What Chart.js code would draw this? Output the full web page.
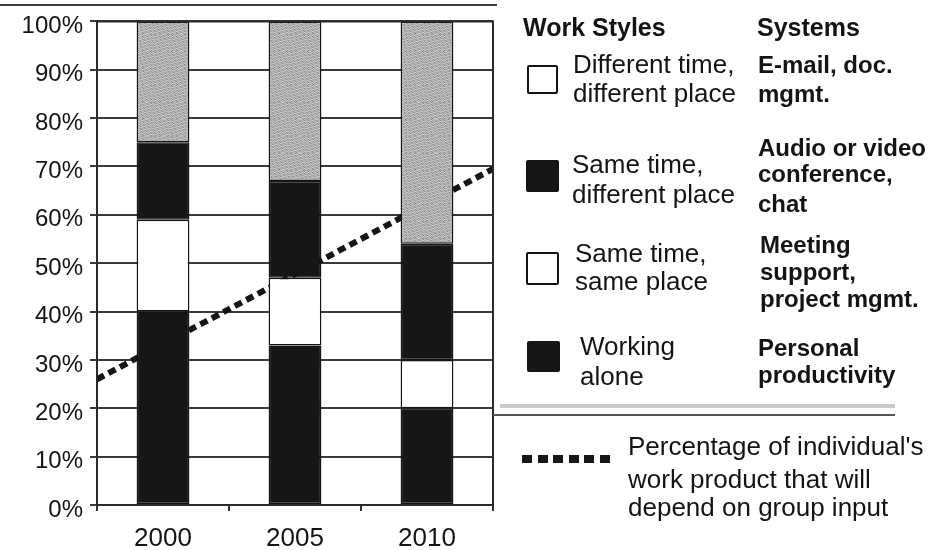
<!DOCTYPE html>
<html>
<head>
<meta charset="utf-8">
<script src="https://cdn.jsdelivr.net/npm/chart.js@4.4.1/dist/chart.umd.min.js"></script>
<style>
    html, body { margin: 0; padding: 0; background: #fff; }
    #wrap { position: relative; width: 928px; height: 550px; overflow: hidden;
            font-family: "Liberation Sans", Arial, sans-serif; color: #141414; }
    #wrap canvas { position: absolute; left: 0; top: 0; }
    .t { position: absolute; white-space: nowrap; line-height: 1; }
    .b { font-weight: bold; }
    .box { position: absolute; border: 2px solid #141414; border-radius: 2px; box-sizing: border-box; background: #fff; }
    .noir { background: #161616; }
    .ligne { position: absolute; }
    .pointille { position: absolute; height: 8px;
                 background: repeating-linear-gradient(90deg, #161616 0, #161616 10px, transparent 10px, transparent 15.6px); }
</style>
</head>
<body>
<div id="wrap">
    <canvas id="graphe" width="928" height="550"></canvas>
    <div id="legende"></div>
</div>
<script>
(function () {
    'use strict';

    // Données (pourcentages)
    var annees              = ['2000', '2005', '2010'];
    var travailSeul         = [40, 33, 20];
    var memeTempsMemeLieu   = [19, 14, 10];
    var memeTempsAutreLieu  = [16, 20, 24];
    var autreTempsAutreLieu = [25, 33, 46];
    // Ligne pointillée : positions sur l'axe des années (-0.5 = bord gauche, 2.5 = bord droit)
    var dependanceX   = [-0.5, 2.5];
    var dependancePct = [26, 69.5];
    var ticksY = [0, 10, 20, 30, 40, 50, 60, 70, 80, 90, 100];

    var canvas = document.getElementById('graphe');
    var ctx = canvas.getContext('2d');

    // Motif gris moucheté (déterministe) pour "Different time, different place"
    function motifGris() {
        var c = document.createElement('canvas');
        c.width = 17; c.height = 17;
        var g = c.getContext('2d');
        g.fillStyle = '#b3b3b3';
        g.fillRect(0, 0, 17, 17);
        for (var i = 0; i < 289; i++) {
            var v = (i * i * 31 + i * 17 + 5) % 13;
            if (v < 4) { g.fillStyle = '#8a8a8a'; }
            else if (v > 10) { g.fillStyle = '#d8d8d8'; }
            else { continue; }
            g.fillRect(i % 17, Math.floor(i / 17), 1, 1);
        }
        return ctx.createPattern(c, 'repeat');
    }

    var noir = '#161616';
    var trait = '#141414';

    // Un seul axe x (linéaire) : barres centrées sur 0, 1, 2
    function barres(label, valeurs, fond) {
        return {
            type: 'bar',
            label: label,
            data: valeurs.map(function (v, i) { return { x: i, y: v }; }),
            stack: 'pile',
            backgroundColor: fond,
            borderColor: trait,
            borderWidth: 1.5,
            borderSkipped: false,
            categoryPercentage: 1,
            barPercentage: 0.4
        };
    }

    var INDEX_LIGNE = 4;

    // La ligne pointillée passe derrière les barres : on la dessine avant les autres jeux.
    var ligneDessous = {
        id: 'ligneDessous',
        beforeDatasetsDraw: function (chart) {
            var a = chart.chartArea, c = chart.ctx;
            c.save();
            c.beginPath();
            c.rect(a.left, a.top, a.right - a.left, a.bottom - a.top);
            c.clip();
            chart.getDatasetMeta(INDEX_LIGNE).controller.draw();
            c.restore();
        },
        beforeDatasetDraw: function (chart, args) {
            if (args.index === INDEX_LIGNE) { return false; }
        }
    };

    // Cadre haut + droit de la zone de tracé
    var cadre = {
        id: 'cadre',
        afterDatasetsDraw: function (chart) {
            var a = chart.chartArea, c = chart.ctx;
            c.save();
            c.strokeStyle = '#2a2a2a';
            c.lineWidth = 2;
            c.beginPath();
            c.moveTo(a.left, a.top);
            c.lineTo(a.right, a.top);
            c.lineTo(a.right, a.bottom);
            c.stroke();
            c.restore();
        }
    };

    new Chart(ctx, {
        data: {
            datasets: [
                barres('Working alone', travailSeul, noir),
                barres('Same time, same place', memeTempsMemeLieu, '#ffffff'),
                barres('Same time, different place', memeTempsAutreLieu, noir),
                barres('Different time, different place', autreTempsAutreLieu, motifGris()),
                {
                    type: 'line',
                    label: "Percentage of individual's work product that will depend on group input",
                    data: dependanceX.map(function (x, i) { return { x: x, y: dependancePct[i] }; }),
                    borderColor: noir,
                    borderWidth: 6,
                    borderDash: [8, 5],
                    borderCapStyle: 'butt',
                    pointRadius: 0,
                    fill: false
                }
            ]
        },
        options: {
            responsive: false,
            animation: false,
            layout: { padding: { top: 19, right: 435, bottom: 0, left: 0 } },
            plugins: {
                legend: { display: false },
                tooltip: { enabled: false }
            },
            scales: {
                x: {
                    type: 'linear',
                    stacked: true,
                    offset: false,
                    min: -0.5,
                    max: 2.5,
                    afterFit: function (s) { s.height = 45; },
                    afterBuildTicks: function (s) { s.ticks = annees.map(function (a, i) { return { value: i }; }); },
                    grid: { offset: true, drawOnChartArea: false, drawTicks: true, tickLength: 6, color: '#333', lineWidth: 2 },
                    border: { display: true, color: '#2a2a2a', width: 2 },
                    ticks: {
                        color: '#141414',
                        padding: 12,
                        autoSkip: false,
                        maxRotation: 0,
                        font: { family: 'Liberation Sans', size: 26 },
                        callback: function (v) { return annees[v]; }
                    }
                },
                y: {
                    stacked: true,
                    min: 0,
                    max: 100,
                    afterFit: function (s) { s.width = 97; },
                    afterBuildTicks: function (s) { s.ticks = ticksY.map(function (v) { return { value: v }; }); },
                    grid: { color: '#3a3a3a', lineWidth: 2, drawTicks: true, tickLength: 7 },
                    border: { display: true, color: '#2a2a2a', width: 2 },
                    ticks: {
                        color: '#141414',
                        padding: 7,
                        labelOffset: 5,
                        font: { family: 'Liberation Sans', size: 24 },
                        callback: function (v) { return v + '%'; }
                    }
                }
            }
        },
        plugins: [ligneDessous, cadre]
    });

    // Légende HTML (positions par ligne de base)
    var leg = document.getElementById('legende');
    function texte(t, x, base, taille, gras) {
        var d = document.createElement('div');
        d.className = 't' + (gras ? ' b' : '');
        d.textContent = t;
        d.style.left = x + 'px';
        d.style.top = (base - 0.8465 * taille) + 'px';
        d.style.fontSize = taille + 'px';
        leg.appendChild(d);
    }
    function boite(x, y, w, h, plein) {
        var d = document.createElement('div');
        d.className = 'box' + (plein ? ' noir' : '');
        d.style.left = x + 'px'; d.style.top = y + 'px';
        d.style.width = w + 'px'; d.style.height = h + 'px';
        leg.appendChild(d);
    }
    function ligne(x, y, w, h, couleur) {
        var d = document.createElement('div');
        d.className = 'ligne';
        d.style.left = x + 'px'; d.style.top = y + 'px';
        d.style.width = w + 'px'; d.style.height = h + 'px';
        d.style.background = couleur;
        leg.appendChild(d);
    }

    ligne(0, 4, 497, 2, '#3c3c3c');

    texte('Work Styles', 523, 36, 25, true);
    texte('Systems', 757, 36, 25, true);

    boite(527, 65, 31, 29, false);
    texte('Different time,', 573, 73, 26);
    texte('different place', 573, 102, 26);
    texte('E-mail, doc.', 758, 73, 24, true);
    texte('mgmt.', 758, 102, 24, true);

    boite(526, 160, 33, 32, true);
    texte('Same time,', 572, 173, 26);
    texte('different place', 572, 203, 26);
    texte('Audio or video', 758, 156, 24, true);
    texte('conference,', 758, 182, 24, true);
    texte('chat', 758, 212, 24, true);

    boite(526, 252, 33, 33, false);
    texte('Same time,', 575, 262, 26);
    texte('same place', 575, 290, 26);
    texte('Meeting', 760, 253, 24, true);
    texte('support,', 760, 280, 24, true);
    texte('project mgmt.', 760, 307, 24, true);

    boite(527, 341, 33, 31, true);
    texte('Working', 580, 355, 26);
    texte('alone', 580, 385, 26);
    texte('Personal', 758, 356, 24, true);
    texte('productivity', 758, 383, 24, true);

    ligne(500, 404, 395, 4, '#cacaca');
    ligne(493, 414, 402, 2, '#555555');

    var p = document.createElement('div');
    p.className = 'pointille';
    p.style.left = '522px'; p.style.top = '455px'; p.style.width = '88px';
    leg.appendChild(p);
    texte("Percentage of individual's", 628, 455, 26);
    texte('work product that will', 628, 488, 26);
    texte('depend on group input', 628, 516, 26);
})();
</script>
</body>
</html>
